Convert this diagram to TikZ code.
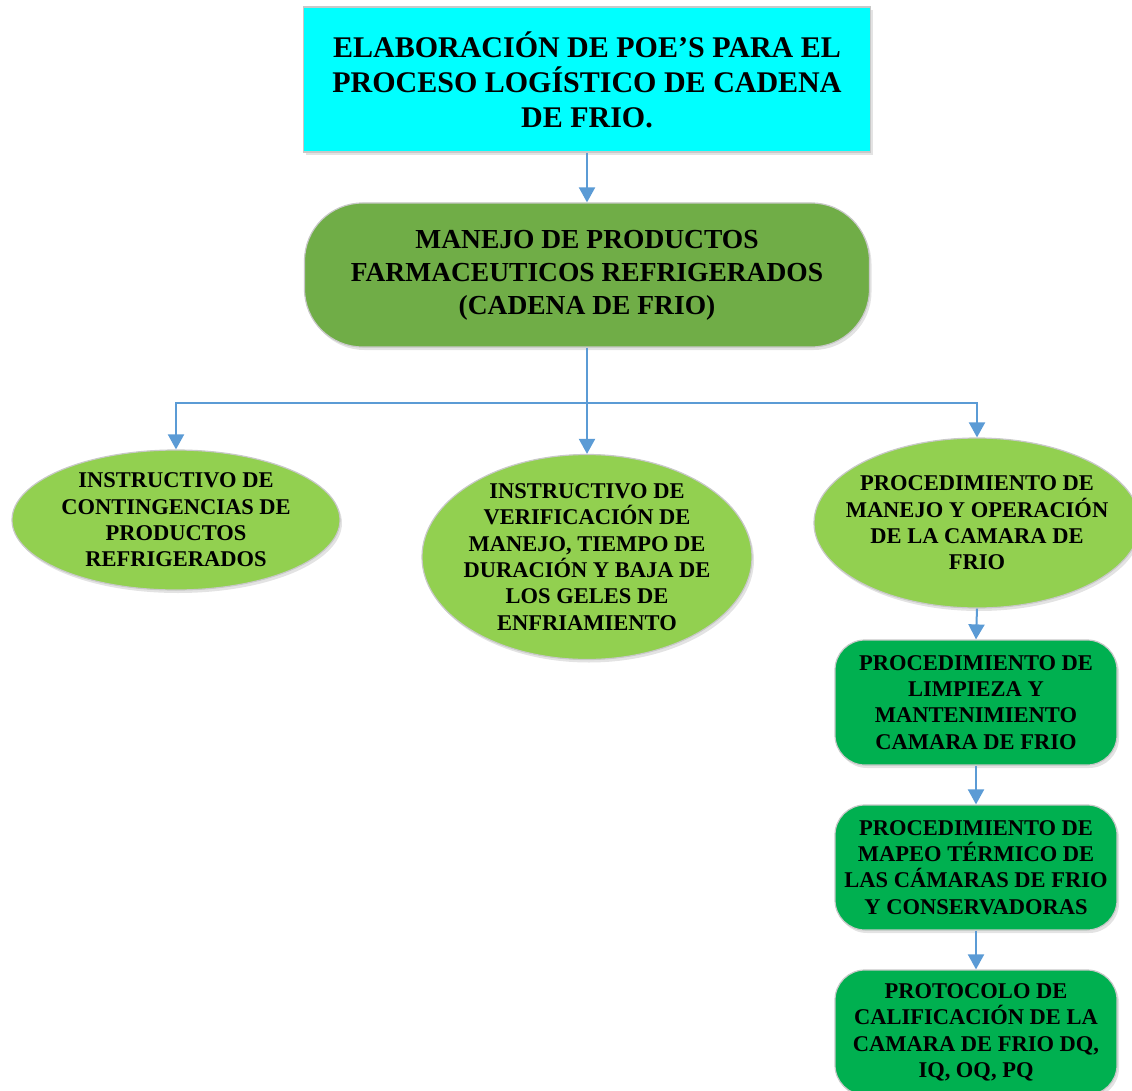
\documentclass[tikz,border=0pt]{standalone}
\usepackage{fontspec}
\setmainfont{Liberation Serif}
\usetikzlibrary{arrows.meta,shapes.geometric,shadows}
\definecolor{cyanbox}{HTML}{00FFFF}
\definecolor{midgreen}{HTML}{70AD47}
\definecolor{lightgreen}{HTML}{92D050}
\definecolor{darkgreen}{HTML}{00B050}
\definecolor{arrowblue}{HTML}{5B9BD5}
\definecolor{edgegray}{HTML}{C8C8C8}
\tikzset{
  shade/.style={drop shadow={shadow xshift=2pt,shadow yshift=-3pt,fill=black!18,opacity=0.6}},
  topbox/.style={rectangle,fill=cyanbox,draw=edgegray,line width=1.2pt,shade,
    minimum width=567pt,minimum height=145pt,align=center,inner sep=0pt,
    font=\fontsize{30}{35}\selectfont\bfseries},
  midbox/.style={rectangle,rounded corners=58pt,fill=midgreen,draw=edgegray,line width=1.2pt,shade,
    minimum width=565pt,minimum height=144pt,align=center,inner sep=0pt,
    font=\fontsize{27.5}{33}\selectfont\bfseries},
  ellnode/.style={ellipse,fill=lightgreen,draw=edgegray,line width=1.2pt,shade,inner sep=0pt},
  elltext/.style={align=center,inner sep=0pt,font=\fontsize{22.5}{26.3}\selectfont\bfseries},
  greenbox/.style={rectangle,rounded corners=30pt,fill=darkgreen,draw=edgegray,line width=1.2pt,shade,
    minimum width=282pt,minimum height=125pt,align=center,inner sep=0pt,
    font=\fontsize{22.5}{26.3}\selectfont\bfseries},
  conn/.style={draw=arrowblue,line width=2pt,-{Triangle[width=16pt,length=15pt]}},
  plainconn/.style={draw=arrowblue,line width=2pt}
}
\begin{document}
\begin{tikzpicture}[x=1pt,y=-1pt]
\useasboundingbox (0,0) rectangle (1132,1091);
\node[topbox] (top) at (587,79.5) {ELABORACIÓN DE POE’S PARA EL\\PROCESO LOGÍSTICO DE CADENA\\DE FRIO.};
\node[midbox] (mid) at (587,275) {MANEJO DE PRODUCTOS\\FARMACEUTICOS REFRIGERADOS\\(CADENA DE FRIO)};
\node[ellnode,minimum width=328pt,minimum height=140pt] (e1) at (176,520) {};
\node[elltext] (t1) at (e1.center) {INSTRUCTIVO DE\\CONTINGENCIAS DE\\PRODUCTOS\\REFRIGERADOS};
\node[ellnode,minimum width=330pt,minimum height=205pt] (e2) at (587,557) {};
\node[elltext] (t2) at (e2.center) {INSTRUCTIVO DE\\VERIFICACIÓN DE\\MANEJO, TIEMPO DE\\DURACIÓN Y BAJA DE\\LOS GELES DE\\ENFRIAMIENTO};
\node[ellnode,minimum width=326pt,minimum height=170pt] (e3) at (977,523) {};
\node[elltext] (t3) at (e3.center) {PROCEDIMIENTO DE\\MANEJO Y OPERACIÓN\\DE LA CAMARA DE\\FRIO};
\node[greenbox] (b4) at (976,702.5) {PROCEDIMIENTO DE\\LIMPIEZA Y\\MANTENIMIENTO\\CAMARA DE FRIO};
\node[greenbox] (b5) at (976,867.5) {PROCEDIMIENTO DE\\MAPEO TÉRMICO DE\\LAS CÁMARAS DE FRIO\\Y CONSERVADORAS};
\node[greenbox] (b6) at (976,1032.5) {PROTOCOLO DE\\CALIFICACIÓN DE LA\\CAMARA DE FRIO DQ,\\IQ, OQ, PQ};
\draw[conn] (top.south) -- (mid.north);
\coordinate (j) at (587,403);
\draw[plainconn] (mid.south) -- (j);
\draw[conn] (j) -| (e1.north);
\draw[conn] (j) -- (e2.north);
\draw[conn] (j) -| (e3.north);
\draw[conn] (e3.south) -- (b4.north);
\draw[conn] (b4.south) -- (b5.north);
\draw[conn] (b5.south) -- (b6.north);
\end{tikzpicture}
\end{document}
